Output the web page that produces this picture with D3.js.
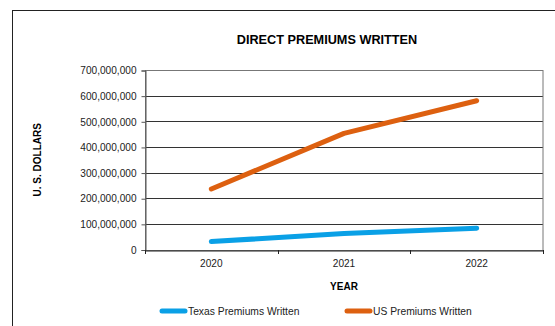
<!DOCTYPE html>
<html><head><meta charset="utf-8">
<script src="https://cdn.jsdelivr.net/npm/d3@7"></script>
<style>body{margin:0;background:#fff;}svg{display:block;font-family:"Liberation Sans",Arial,sans-serif;}</style>
</head><body>
<script>
const years = ["2020", "2021", "2022"];
const texasValues = [31000000, 62000000, 83000000];
const usValues = [236000000, 453000000, 580000000];
const yTicks = [0, 100000000, 200000000, 300000000, 400000000, 500000000, 600000000, 700000000];
const seriesNames = ["Texas Premiums Written", "US Premiums Written"];
const seriesColors = ["#0aa0e6", "#dd6010"];

(function () {
const W = 555, H = 326;
const svg = d3.select("body").append("svg").attr("width", W).attr("height", H);
svg.append("rect").attr("x", 12.5).attr("y", 10.5).attr("width", 700).attr("height", 500)
  .attr("fill", "none").attr("stroke", "#222").attr("stroke-width", 1);

const pL = 145, pR = 543, pT = 70, pB = 249.5;
const x = d3.scaleBand().domain(years).range([pL, pR]);
const y = d3.scaleLinear().domain([0, 700000000]).range([pB, pT]);

svg.append("text").attr("x", 327).attr("y", 44).attr("text-anchor", "middle")
  .attr("font-weight", "bold").attr("font-size", 12.7).text("DIRECT PREMIUMS WRITTEN");

// gridlines
svg.append("g").selectAll("line").data(yTicks.slice(1, -1)).join("line")
  .attr("x1", pL).attr("x2", pR)
  .attr("y1", d => Math.round(y(d)) + 0.5).attr("y2", d => Math.round(y(d)) + 0.5)
  .attr("stroke", "#333").attr("stroke-width", 1);
// plot border
svg.append("rect").attr("x", pL + 0.5).attr("y", Math.round(pT) + 0.5)
  .attr("width", pR - pL - 0.5).attr("height", Math.round(pB) - Math.round(pT))
  .attr("fill", "none").attr("stroke", "#777").attr("stroke-width", 1);

// y axis
const yAxis = d3.axisLeft(y).tickValues(yTicks).tickSize(4).tickPadding(5)
  .tickFormat(d => d3.format(",")(d));
const gy = svg.append("g").attr("transform", `translate(${pL + 0.5},0.5)`).call(yAxis);
gy.select(".domain").attr("stroke", "#555");
gy.selectAll(".tick line").attr("stroke", "#555");
gy.selectAll("text").attr("font-size", 10.1).attr("fill", "#222").attr("font-family", "Liberation Sans, Arial, sans-serif");

// x axis
const gx = svg.append("g").attr("transform", `translate(0,${Math.round(pB) + 0.5})`)
  .call(d3.axisBottom(x).tickSize(0).tickPadding(9));
gx.select(".domain").attr("stroke", "#222");
gx.selectAll("text").attr("font-size", 10.1).attr("fill", "#222").attr("font-family", "Liberation Sans, Arial, sans-serif");
const bounds = [pL].concat(years.map(d => x(d) + x.bandwidth()));
svg.append("g").selectAll("line").data(bounds).join("line")
  .attr("x1", d => Math.round(d) + 0.5).attr("x2", d => Math.round(d) + 0.5)
  .attr("y1", Math.round(pB)).attr("y2", Math.round(pB) + 4)
  .attr("stroke", "#222");

svg.append("text").attr("x", 344).attr("y", 290).attr("text-anchor", "middle")
  .attr("font-weight", "bold").attr("font-size", 10).text("YEAR");
svg.append("text").attr("transform", `translate(41,${(pT + pB) / 2}) rotate(-90)`)
  .attr("text-anchor", "middle").attr("font-weight", "bold").attr("font-size", 10).text("U. S. DOLLARS");

const line = d3.line().x((d, i) => x(years[i]) + x.bandwidth() / 2).y(d => y(d));
[texasValues, usValues].forEach((vals, i) => {
  svg.append("path").attr("d", line(vals)).attr("fill", "none")
    .attr("stroke", seriesColors[i]).attr("stroke-width", 5)
    .attr("stroke-linecap", "round").attr("stroke-linejoin", "round");
});

const legX = [160, 345];
seriesNames.forEach((n, i) => {
  const g = svg.append("g").attr("transform", `translate(${legX[i]},311)`);
  g.append("line").attr("x1", 2).attr("x2", 25).attr("y1", 0).attr("y2", 0)
    .attr("stroke", seriesColors[i]).attr("stroke-width", 5).attr("stroke-linecap", "round");
  g.append("text").attr("x", 28).attr("y", 3.5).attr("font-size", 10.3).attr("fill", "#222").text(n);
});
})();
</script>
</body></html>
